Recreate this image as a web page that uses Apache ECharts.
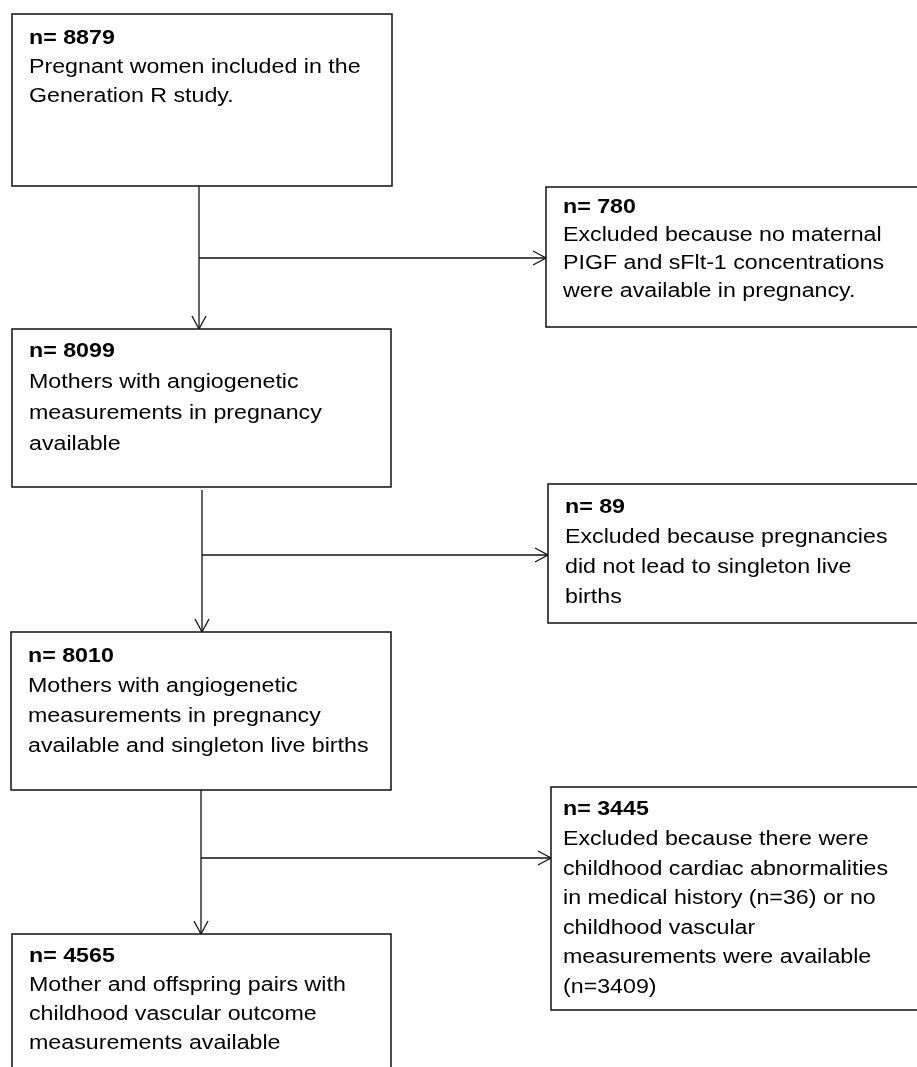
<!DOCTYPE html>
<html><head><meta charset="utf-8">
<script src="https://cdn.jsdelivr.net/npm/echarts@6/dist/echarts.min.js"></script>
<style>html,body{margin:0;padding:0;background:#fff}#c{width:917px;height:1067px}</style>
</head><body><div id="c"></div>
<script>
// ---- data ----
const stepCounts = [8879, 8099, 8010, 4565];
const stepTexts = [
  'Pregnant women included in the\nGeneration R study.',
  'Mothers with angiogenetic\nmeasurements in pregnancy\navailable',
  'Mothers with angiogenetic\nmeasurements in pregnancy\navailable and singleton live births',
  'Mother and offspring pairs with\nchildhood vascular outcome\nmeasurements available'
];
const exclusionCounts = [780, 89, 3445];
const exclusionTexts = [
  'Excluded because no maternal\nPIGF and sFlt-1 concentrations\nwere available in pregnancy.',
  'Excluded because pregnancies\ndid not lead to singleton live\nbirths',
  'Excluded because there were\nchildhood cardiac abnormalities\nin medical history (n=36) or no\nchildhood vascular\nmeasurements were available\n(n=3409)'
];

// ---- layout (chart units) ----
const stepLayout = [
  {box: [12, 14, 392, 186], base: 44, lh: 28.8, pad: 17},
  {box: [12, 329, 391, 487], base: 357, lh: 31, pad: 17},
  {box: [11, 632, 391, 790], base: 662, lh: 30, pad: 17},
  {box: [12, 934, 391, 1090], base: 962, lh: 29, pad: 17}
];
const exclLayout = [
  {box: [546, 187, 930, 327], base: 213, lh: 28, pad: 17},
  {box: [548, 484, 930, 623], base: 513, lh: 30, pad: 17},
  {box: [551, 787, 930, 1010], base: 815, lh: 29.6, pad: 12}
];
const arrowLayout = [
  {x: 199, y0: 186, y1: 329, hy: 258, hx1: 546},
  {x: 202, y0: 490, y1: 632, hy: 555, hx1: 548},
  {x: 201, y0: 790, y1: 934, hy: 858, hx1: 551}
];
const FONT = "'Liberation Sans', Arial, sans-serif";
const FS = 19.5, SX = 1.19, MID = 5;
const INK = '#111';

const boxes = [];
stepCounts.forEach((c, i) => boxes.push({count: c, text: stepTexts[i], L: stepLayout[i]}));
exclusionCounts.forEach((c, i) => boxes.push({count: c, text: exclusionTexts[i], L: exclLayout[i]}));

function renderBox(params, api) {
  const b = boxes[params.dataIndex];
  const B = b.L.box;
  const p0 = api.coord([B[0], B[1]]), p1 = api.coord([B[2], B[3]]);
  const children = [{
    type: 'rect',
    shape: {x: p0[0], y: p0[1], width: p1[0] - p0[0], height: p1[1] - p0[1]},
    style: {fill: '#fff', stroke: INK, lineWidth: 1.5}
  }];
  const lines = ['n= ' + b.count].concat(b.text.split('\n'));
  lines.forEach((t, i) => {
    const pt = api.coord([B[0] + b.L.pad, b.L.base + i * b.L.lh]);
    children.push({
      type: 'text',
      x: pt[0], y: pt[1] - MID,
      scaleX: SX, scaleY: 1,
      style: {
        text: t, x: 0, y: 0, align: 'left', verticalAlign: 'middle',
        fill: '#000',
        font: (i === 0 ? 'bold ' : '') + FS + 'px ' + FONT
      }
    });
  });
  return {type: 'group', children};
}

function renderArrow(params, api) {
  const a = arrowLayout[params.dataIndex];
  const t = api.coord([a.x, a.y0]), bt = api.coord([a.x, a.y1]);
  const h0 = api.coord([a.x, a.hy]), h1 = api.coord([a.hx1, a.hy]);
  const AL = 13, AW = 7;
  const ls = {stroke: INK, lineWidth: 1.3, fill: 'none'};
  return {type: 'group', children: [
    {type: 'line', shape: {x1: t[0], y1: t[1], x2: bt[0], y2: bt[1]}, style: ls},
    {type: 'polyline', shape: {points: [[bt[0] - AW, bt[1] - AL], [bt[0], bt[1]], [bt[0] + AW, bt[1] - AL]]}, style: ls},
    {type: 'line', shape: {x1: h0[0], y1: h0[1], x2: h1[0], y2: h1[1]}, style: ls},
    {type: 'polyline', shape: {points: [[h1[0] - AL, h1[1] - AW], [h1[0], h1[1]], [h1[0] - AL, h1[1] + AW]]}, style: ls}
  ]};
}

const chart = echarts.init(document.getElementById('c'), null, {renderer: 'canvas'});
chart.setOption({
  animation: false,
  backgroundColor: '#fff',
  grid: {left: 0, right: 0, top: 0, bottom: 0},
  xAxis: {type: 'value', min: 0, max: 917, show: false},
  yAxis: {type: 'value', min: 0, max: 1067, inverse: true, show: false},
  series: [
    {type: 'custom', name: 'arrows', clip: false, silent: true,
     data: arrowLayout.map((a, i) => [i]), renderItem: renderArrow},
    {type: 'custom', name: 'boxes', clip: false, silent: true,
     data: boxes.map((b, i) => [i]), renderItem: renderBox}
  ]
});
</script>
</body></html>
